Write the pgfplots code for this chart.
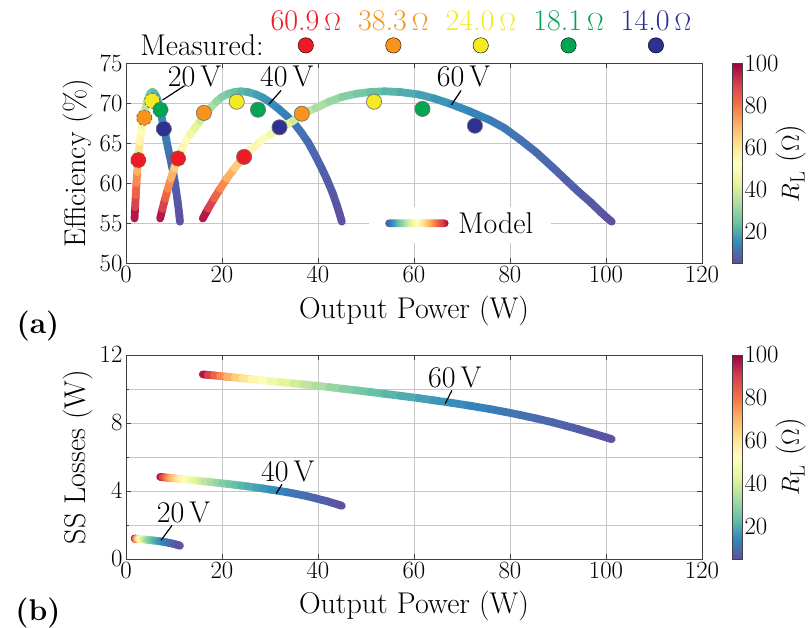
\documentclass[border=0pt]{standalone}
\usepackage{pgfplots}
\pgfplotsset{compat=1.18}
\usepackage{pgfplotstable}

\definecolor{sp0}{rgb}{0.369,0.310,0.635}
\definecolor{sp1}{rgb}{0.196,0.533,0.741}
\definecolor{sp2}{rgb}{0.400,0.761,0.647}
\definecolor{sp3}{rgb}{0.671,0.867,0.643}
\definecolor{sp4}{rgb}{0.902,0.961,0.596}
\definecolor{sp5}{rgb}{1.000,1.000,0.749}
\definecolor{sp6}{rgb}{0.996,0.878,0.545}
\definecolor{sp7}{rgb}{0.992,0.682,0.380}
\definecolor{sp8}{rgb}{0.957,0.427,0.263}
\definecolor{sp9}{rgb}{0.835,0.243,0.310}
\definecolor{sp10}{rgb}{0.620,0.004,0.259}

\definecolor{mred}{RGB}{237,28,36}
\definecolor{morange}{RGB}{247,148,29}
\definecolor{myellow}{RGB}{243,234,33}
\definecolor{mgreen}{RGB}{0,166,81}
\definecolor{mblue}{RGB}{46,49,146}

\pgfdeclarehorizontalshading{specshade}{100bp}{color(0bp)=(sp0); color(25bp)=(sp0); color(30bp)=(sp1); color(35bp)=(sp2); color(40bp)=(sp3); color(45bp)=(sp4); color(50bp)=(sp5); color(55bp)=(sp6); color(60bp)=(sp7); color(65bp)=(sp8); color(70bp)=(sp9); color(75bp)=(sp10); color(100bp)=(sp10)}

\newcommand{\bigfont}{\fontsize{30bp}{36bp}\selectfont}

\pgfplotsset{
  colormap={spectralr}{color=(sp0) color=(sp1) color=(sp2) color=(sp3) color=(sp4) color=(sp5) color=(sp6) color=(sp7) color=(sp8) color=(sp9) color=(sp10)},
  meas/.style={only marks, mark=*, mark size=7.6bp, mark options={fill=#1, draw=black!55, line width=0.7pt, solid}},
  measd/.style={only marks, mark=*, mark size=7.6bp, mark options={fill=#1, draw=black!60, line width=0.7pt, densely dashed}},
  legdot/.style={only marks, mark=*, mark size=7.7bp, mark options={fill=#1, draw=none}},
  model/.style={mesh, line width=7.8bp, line cap=round, point meta=\thisrow{R}, forget plot},
  common/.style={
    scale only axis, width=576bp,
    xmin=0, xmax=120, xtick={0,20,...,120},
    font=\bigfont,
    axis line style={black!75, line width=0.8pt},
    tick style={black!75, line width=0.8pt},
    major tick length=5bp,
    grid style={black!22, line width=0.8pt},
    minor grid style={black!22, line width=0.8pt},
    colormap name=spectralr,
    point meta min=5, point meta max=100,
    colorbar,
    colorbar style={
      at={(parent axis.north east)}, anchor=north west, xshift=22bp,
      width=9.5bp,
      ytick={20,40,60,80,100},
      major tick length=0pt,
      axis line style={black!75, line width=0.7pt},
      ylabel={$R_{\mathrm{L}}$ ($\Omega$)},
      ylabel shift=-9bp,
      yticklabel style={xshift=-1bp},
      font=\bigfont,
    },
    xlabel={Output Power (W)},
    xlabel shift=6bp,
    clip=false,
  },
}

% R: load resistance (Ohm); P20/P40/P60: output power (W); eff: efficiency (%); L: SS losses (W)
\pgfplotstableread{
R     P20   eff20  P40   eff40  P60    eff60  L20   L40   L60
100   1.78  55.6   7.11  55.6   16.00  55.6   1.21  4.83  10.86
93    1.90  57.0   7.60  56.8   17.09  56.8   1.20  4.81  10.83
86    2.04  58.5   8.16  58.1   18.35  58.1   1.20  4.80  10.80
80    2.18  60.0   8.71  59.3   19.59  59.3   1.20  4.78  10.76
74    2.33  61.4   9.34  60.6   21.01  60.6   1.19  4.76  10.72
68    2.52  62.9   10.06 61.9   22.64  61.9   1.19  4.75  10.68
63    2.69  64.0   10.76 63.1   24.21  63.1   1.18  4.72  10.63
58    2.89  65.2   11.56 64.2   26.01  64.2   1.18  4.70  10.58
53    3.12  66.3   12.49 65.3   28.10  65.3   1.17  4.68  10.52
49    3.34  67.2   13.35 66.1   30.03  66.1   1.16  4.65  10.47
45    3.58  68.0   14.33 66.9   32.24  66.9   1.16  4.62  10.40
41    3.87  68.9   15.46 67.8   34.79  67.8   1.15  4.59  10.33
38    4.11  69.6   16.44 68.7   36.98  68.7   1.14  4.56  10.27
35    4.39  70.2   17.54 69.4   39.47  69.4   1.13  4.53  10.20
32    4.70  70.8   18.80 70.2   42.30  70.2   1.12  4.49  10.11
29.5  5.00  71.2   19.99 70.8   44.98  70.8   1.11  4.45  10.02
27    5.34  71.4   21.34 71.2   48.02  71.2   1.10  4.41  9.92
25    5.64  71.4   22.56 71.4   50.75  71.4   1.09  4.37  9.83
23    5.98  71.2   23.91 71.5   53.79  71.5   1.08  4.32  9.72
21    6.35  70.8   25.42 71.4   57.19  71.4   1.07  4.27  9.60
19    6.78  70.0   27.12 71.1   61.02  71.1   1.05  4.20  9.46
17.5  7.14  69.1   28.54 70.7   64.22  70.6   1.04  4.15  9.33
16    7.52  68.0   30.09 70.1   67.71  69.9   1.02  4.08  9.19
14.5  7.95  66.8   31.81 69.3   71.57  69.0   1.00  4.01  9.02
13    8.42  65.4   33.69 68.3   75.81  67.9   0.98  3.92  8.82
12    8.76  64.4   35.04 67.5   78.84  66.9   0.96  3.85  8.66
11    9.11  63.4   36.46 66.4   82.03  65.5   0.94  3.77  8.48
10    9.49  62.4   37.96 65.1   85.41  63.9   0.92  3.68  8.27
9     9.88  61.2   39.50 63.4   88.88  62.0   0.89  3.57  8.04
8.2   10.19 60.1   40.76 61.9   91.70  60.4   0.87  3.48  7.83
7.5   10.46 59.0   41.85 60.5   94.17  59.0   0.85  3.40  7.64
6.7   10.76 57.7   43.04 58.8   96.85  57.6   0.82  3.30  7.42
6     10.99 56.6   43.96 57.2   98.90  56.4   0.81  3.22  7.25
5.5   11.13 55.9   44.53 56.1   100.20 55.7   0.79  3.17  7.14
5     11.24 55.2   44.97 55.2   101.19 55.2   0.78  3.13  7.05
}\model

\begin{document}
\begin{tikzpicture}[font=\bigfont]
\useasboundingbox (-126bp,63.3bp) rectangle (685bp,-564.7bp);

% ---------------- (a) ----------------
\begin{axis}[common,
  at={(0,0)}, anchor=north west, height=200bp,
  ymin=50, ymax=75, ytick={50,55,...,75},
  grid=major,
  ylabel={Efficiency (\%)},
]
% Model legend box
\fill[white] (axis cs:50.6,52.6) rectangle (axis cs:88.5,57.1);
\shade[shading=specshade, rounded corners=3.8bp] (axis cs:54.0,54.52) rectangle (axis cs:67.2,55.48);
\node[anchor=center] at (axis cs:77.0,55.0) {Model};

\addplot[model] table[x=P20, y=eff20] {\model};
\addplot[model] table[x=P40, y=eff40] {\model};
\addplot[model] table[x=P60, y=eff60] {\model};

% measured points
\addplot[measd=mred] coordinates {(2.56,62.9) (10.85,63.1)};
\addplot[meas=mred] coordinates {(24.6,63.3)};
\addplot[measd=morange] coordinates {(3.8,68.2)};
\addplot[meas=morange] coordinates {(16.23,68.8) (36.62,68.7)};
\addplot[measd=myellow] coordinates {(5.46,70.3)};
\addplot[meas=myellow] coordinates {(23.07,70.2) (51.67,70.2)};
\addplot[measd=mgreen] coordinates {(7.18,69.2)};
\addplot[meas=mgreen] coordinates {(27.5,69.2) (61.76,69.3)};
\addplot[measd=mblue] coordinates {(7.88,66.8)};
\addplot[meas=mblue] coordinates {(31.98,67.0) (72.69,67.2)};

% voltage annotations
\draw[black, line width=1.2pt] (axis cs:12.2,72.2) -- (axis cs:7.6,70.4);
\node at (axis cs:14.3,73.3) {20\,V};
\draw[black, line width=1.2pt] (axis cs:32.3,71.6) -- (axis cs:29.8,69.9);
\node at (axis cs:33.5,73.4) {40\,V};
\draw[black, line width=1.2pt] (axis cs:69.8,71.6) -- (axis cs:67.8,69.8);
\node at (axis cs:70.3,73.4) {60\,V};

% measured legend (above axis)
\node at (axis cs:15.85,77.24) {Measured:};
\addplot[legdot=mred] coordinates {(37.45,77.24)};
\addplot[legdot=morange] coordinates {(55.7,77.24)};
\addplot[legdot=myellow] coordinates {(73.9,77.24)};
\addplot[legdot=mgreen] coordinates {(92.2,77.24)};
\addplot[legdot=mblue] coordinates {(110.4,77.24)};
\node[text=mred] at (axis cs:37.45,80.35) {60.9\,$\Omega$};
\node[text=morange] at (axis cs:55.7,80.35) {38.3\,$\Omega$};
\node[text=myellow] at (axis cs:73.9,80.35) {24.0\,$\Omega$};
\node[text=mgreen] at (axis cs:92.2,80.35) {18.1\,$\Omega$};
\node[text=mblue] at (axis cs:110.4,80.35) {14.0\,$\Omega$};
\end{axis}

% ---------------- (b) ----------------
\begin{axis}[common,
  at={(0,-291.7bp)}, anchor=north west, height=204bp,
  ymin=0, ymax=12, ytick={0,4,8,12}, minor ytick={2,6,10},
  grid=both,
  ylabel={SS Losses (W)},
]
\addplot[model] table[x=P20, y=L20] {\model};
\addplot[model] table[x=P40, y=L40] {\model};
\addplot[model] table[x=P60, y=L60] {\model};

\draw[black, line width=1.2pt] (axis cs:9.6,1.98) -- (axis cs:7.3,1.1);
\node at (axis cs:12,2.75) {20\,V};
\draw[black, line width=1.2pt] (axis cs:32.5,4.39) -- (axis cs:31.3,3.85);
\node at (axis cs:33.7,5.16) {40\,V};
\draw[black, line width=1.2pt] (axis cs:67.9,9.92) -- (axis cs:66.5,9.14);
\node at (axis cs:68.5,10.69) {60\,V};
\end{axis}

\node[font=\bigfont\bfseries] at (-88bp,-262.7bp) {(a)};
\node[font=\bigfont\bfseries] at (-88bp,-549.7bp) {(b)};
\end{tikzpicture}
\end{document}
